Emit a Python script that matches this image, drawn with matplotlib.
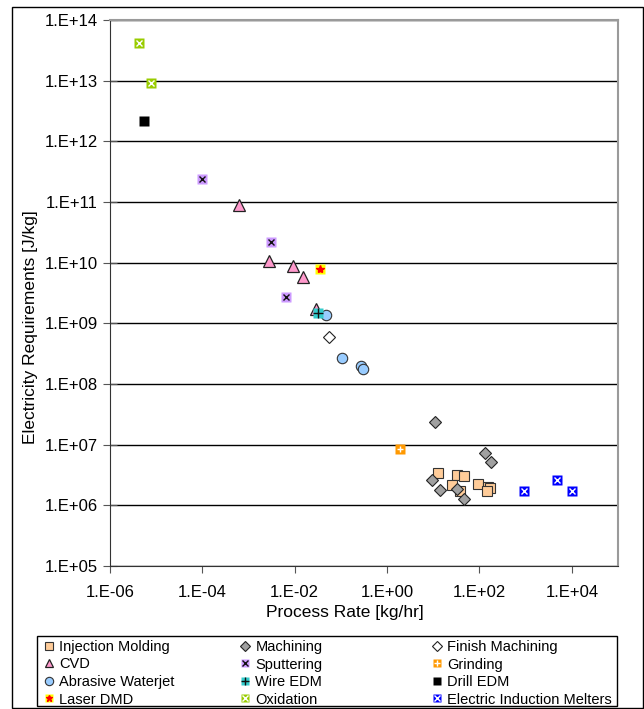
import math

import matplotlib
matplotlib.use("Agg")
import matplotlib.pyplot as plt
from matplotlib.patches import Rectangle
from matplotlib.ticker import FixedLocator, NullLocator, FuncFormatter

plt.rcParams['font.family'] = ['Liberation Sans', 'DejaVu Sans']

# data (process rate kg/hr, electricity J/kg)
inj_x = [12.7, 32, 47, 26, 37, 91, 155, 170, 145]
inj_y = [3.4e6, 3.2e6, 3.0e6, 2.2e6, 1.74e6, 2.24e6, 2.04e6, 1.95e6, 1.74e6]
mach_x = [10.7, 129, 182, 9.5, 13.8, 33, 47]
mach_y = [2.34e7, 7.2e6, 5.1e6, 2.6e6, 1.8e6, 1.86e6, 1.26e6]
fin_x = [0.055]
fin_y = [6.0e8]
cvd_x = [6.3e-4, 2.8e-3, 9.3e-3, 1.5e-2, 2.9e-2]
cvd_y = [8.9e10, 1.07e10, 8.9e9, 5.8e9, 1.7e9]
sput_x = [1.0e-4, 3.1e-3, 6.5e-3]
sput_y = [2.4e11, 2.2e10, 2.7e9]
grind_x = [1.95]
grind_y = [8.5e6]
water_x = [4.8e-2, 0.105, 0.27, 0.30]
water_y = [1.38e9, 2.7e8, 2.0e8, 1.8e8]
wire_x = [3.2e-2]
wire_y = [1.5e9]
drill_x = [5.4e-6]
drill_y = [2.2e12]
laser_x = [3.5e-2]
laser_y = [7.9e9]
oxid_x = [4.2e-6, 7.7e-6]
oxid_y = [4.2e13, 9.1e12]
melt_x = [910, 4.7e3, 1.0e4]
melt_y = [1.74e6, 2.6e6, 1.7e6]

W, H = 644, 709
fig = plt.figure(figsize=(W / 100, H / 100), dpi=100)
ax = fig.add_axes([110 / W, 1 - 566 / H, 508 / W, 546 / H])
ax.set_xscale('log')
ax.set_yscale('log')
ax.set_xlim(1e-6, 1e5)
ax.set_ylim(1e5, 1e14)

ms = 7
def sq(x, y, fc, ec='none', size=ms, z=3):
    return ax.plot(x, y, 's', ms=size, mfc=fc, mec=ec, mew=0.8, ls='none', zorder=z)[0]

def ov(x, y, m, c, size=ms - 2, z=4, w=1.0):
    return ax.plot(x, y, m, ms=size, color=c, mew=w, ls='none', zorder=z)[0]

h_inj = sq(inj_x, inj_y, '#FFCC99', '#333333')
h_mach = ax.plot(mach_x, mach_y, 'D', ms=6, mfc='#A0A0A0', mec='#222222', mew=0.8, ls='none', zorder=3)[0]
h_fin = ax.plot(fin_x, fin_y, 'D', ms=6, mfc='white', mec='#222222', mew=0.8, ls='none', zorder=3)[0]
h_cvd = ax.plot(cvd_x, cvd_y, '^', ms=8, mfc='#FF99CC', mec='#222222', mew=0.9, ls='none', zorder=3)[0]
h_sput = (sq(sput_x, sput_y, '#CC99FF'), ov(sput_x, sput_y, 'x', '#111111'))
h_grind = (sq(grind_x, grind_y, '#FF9900'), ov(grind_x, grind_y, '+', 'white'))
h_water = ax.plot(water_x, water_y, 'o', ms=7.5, mfc='#99CCFF', mec='#333333', mew=0.8, ls='none', zorder=3)[0]
h_wire = (sq(wire_x, wire_y, '#33CCCC'), ov(wire_x, wire_y, '+', '#111111', size=ms))
h_drill = sq(drill_x, drill_y, 'black')
h_laser = (sq(laser_x, laser_y, '#FFFF00'), ov(laser_x, laser_y, '*', '#FF0000', size=ms - 1))
h_oxid = (sq(oxid_x, oxid_y, '#99CC00'), ov(oxid_x, oxid_y, 'x', 'white'))
h_melt = (sq(melt_x, melt_y, '#0000FF'), ov(melt_x, melt_y, 'x', 'white'))

# axes, excel style
ax.yaxis.set_major_locator(FixedLocator([10.0 ** k for k in range(5, 15)]))
ax.yaxis.set_minor_locator(NullLocator())
ax.xaxis.set_major_locator(FixedLocator([10.0 ** k for k in range(-6, 5, 2)]))
ax.xaxis.set_minor_locator(NullLocator())

def fmt(v, pos):
    e = int(round(math.log10(v)))
    return '1.E%s%02d' % ('+' if e >= 0 else '-', abs(e))

ax.xaxis.set_major_formatter(FuncFormatter(fmt))
ax.yaxis.set_major_formatter(FuncFormatter(fmt))
ax.grid(axis='y', color='black', lw=1.0)
ax.set_axisbelow(True)
for s in ['top', 'right']:
    ax.spines[s].set_color('#9A9A9A')
    ax.spines[s].set_linewidth(1.5)
for s in ['left', 'bottom']:
    ax.spines[s].set_color('#333333')
ax.tick_params(axis='x', direction='out', length=5, color='#555555', labelsize=12, pad=9)
ax.tick_params(axis='y', direction='inout', length=10, color='#555555', labelsize=12, pad=4)

fig.text(345 / W, 1 - 613 / H, 'Process Rate [kg/hr]', fontsize=12.5, ha='center', va='center')
fig.text(31 / W, 1 - 327 / H, 'Electricity Requirements [J/kg]', fontsize=12.5,
         ha='center', va='center', rotation=90)

# legend: three columns inside one box
cols = [
    ([h_inj, h_cvd, h_water, h_laser],
     ['Injection Molding', 'CVD', 'Abrasive Waterjet', 'Laser DMD'], 44),
    ([h_mach, h_sput, h_wire, h_oxid],
     ['Machining', 'Sputtering', 'Wire EDM', 'Oxidation'], 240),
    ([h_fin, h_grind, h_drill, h_melt],
     ['Finish Machining', 'Grinding', 'Drill EDM', 'Electric Induction Melters'], 432),
]
for hs, ls, x0 in cols:
    lg = fig.legend(hs, ls, loc='upper left', bbox_to_anchor=(x0 / W, 1 - 640 / H),
                    frameon=False, fontsize=10.5, handlelength=0.7, handletextpad=0.35,
                    labelspacing=0.24, borderpad=0, borderaxespad=0, markerscale=0.8)

fig.patches.append(Rectangle((37 / W, 1 - 706 / H), 580 / W, 70 / H, transform=fig.transFigure,
                             fill=False, edgecolor='black', lw=1.0))
fig.patches.append(Rectangle((11.5 / W, 1 - 708 / H), 631 / W, 701 / H, transform=fig.transFigure,
                             fill=False, edgecolor='black', lw=1.0))

fig.savefig('out.png', dpi=100)
